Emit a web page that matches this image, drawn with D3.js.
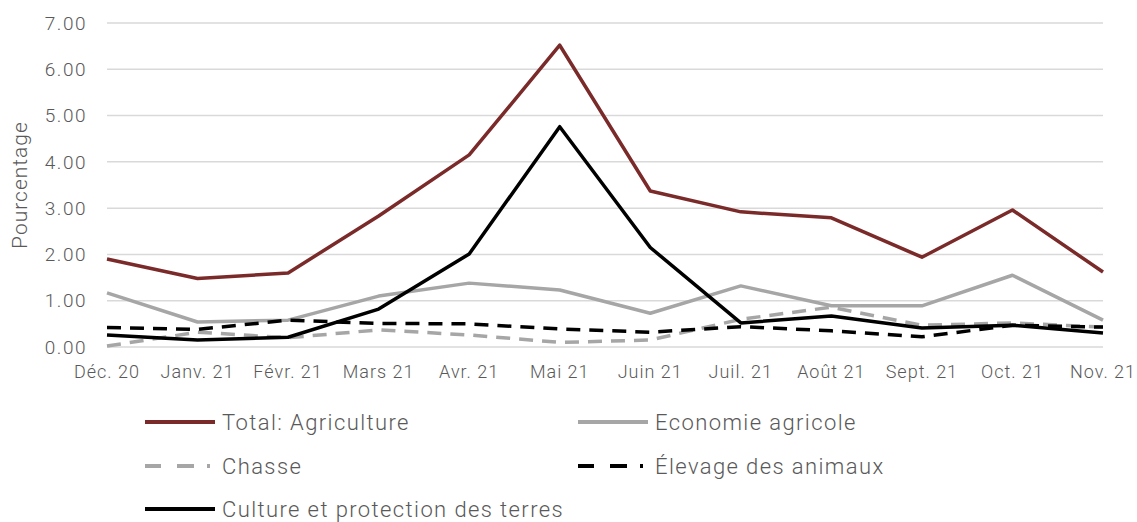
<!DOCTYPE html>
<html>
<head>
<meta charset="utf-8">
<script src="https://cdn.jsdelivr.net/npm/d3@7"></script>
<style>
	body { margin: 0; background: #fff; }
	svg text { font-family: Roboto, "Open Sans", sans-serif; font-weight: 300; fill: #595959; }
</style>
</head>
<body>
<svg id="chart" width="1137" height="522"></svg>
<script>
var months = ["Déc. 20","Janv. 21","Févr. 21","Mars 21","Avr. 21","Mai 21","Juin 21","Juil. 21","Août 21","Sept. 21","Oct. 21","Nov. 21"];
var yTicks = [0,1,2,3,4,5,6,7];

var totalAgriculture = [1.90,1.48,1.60,2.83,4.15,6.52,3.37,2.92,2.79,1.94,2.96,1.62];
var economieAgricole = [1.17,0.54,0.58,1.10,1.38,1.23,0.73,1.32,0.89,0.89,1.55,0.58];
var chasse = [0.02,0.32,0.20,0.37,0.26,0.10,0.15,0.60,0.86,0.47,0.52,0.43];
var elevage = [0.42,0.38,0.58,0.51,0.50,0.39,0.32,0.44,0.35,0.22,0.47,0.43];
var culture = [0.26,0.15,0.21,0.82,2.01,4.76,2.15,0.52,0.67,0.41,0.47,0.30];

var series = [
	{name:"Total: Agriculture", values:totalAgriculture, color:"#7b2a2a", dash:null},
	{name:"Economie agricole", values:economieAgricole, color:"#a6a6a6", dash:null},
	{name:"Chasse", values:chasse, color:"#a6a6a6", dash:"14,9"},
	{name:"Élevage des animaux", values:elevage, color:"#000000", dash:"14,9"},
	{name:"Culture et protection des terres", values:culture, color:"#000000", dash:null}
];

var svg = d3.select("#chart");
var x = d3.scalePoint().domain(months).range([107,1103]);
var y = d3.scaleLinear().domain([0,7]).range([347,23]);

// grid
svg.append("g").selectAll("line")
	.data(yTicks)
	.enter().append("line")
	.attr("x1",107).attr("x2",1103)
	.attr("y1",function(d){return y(d);}).attr("y2",function(d){return y(d);})
	.attr("stroke","#d9d9d9").attr("stroke-width",1.5);

// y axis labels
svg.append("g").selectAll("text")
	.data(yTicks)
	.enter().append("text")
	.attr("x",87).attr("y",function(d){return y(d);})
	.attr("dy","0.35em")
	.attr("text-anchor","end")
	.style("font-size","19px")
	.style("letter-spacing","1.5px")
	.text(function(d){return d.toFixed(2);});

// x axis labels
svg.append("g").selectAll("text")
	.data(months)
	.enter().append("text")
	.attr("x",function(d){return x(d);}).attr("y",372)
	.attr("dy","0.35em")
	.attr("text-anchor","middle")
	.style("font-size","18px")
	.style("letter-spacing","1px")
	.text(function(d){return d;});

svg.append("text")
	.attr("transform","translate(20,185) rotate(-90)")
	.attr("dy","0.35em")
	.attr("text-anchor","middle")
	.style("font-size","21px")
	.style("letter-spacing","1px")
	.text("Pourcentage");

var line = d3.line()
	.x(function(d,i){return x(months[i]);})
	.y(function(d){return y(d);});

svg.append("g").selectAll("path")
	.data(series)
	.enter().append("path")
	.attr("d",function(s){return line(s.values);})
	.attr("fill","none")
	.attr("stroke",function(s){return s.color;})
	.attr("stroke-width",3.5)
	.attr("stroke-linejoin","round")
	.attr("stroke-dasharray",function(s){return s.dash;});

// legend
var legendPos = [[145,422],[578,422],[145,466],[578,466],[145,509]];
var lg = svg.append("g").selectAll("g")
	.data(series)
	.enter().append("g")
	.attr("transform",function(s,i){return "translate(" + legendPos[i][0] + "," + legendPos[i][1] + ")";});

lg.append("line")
	.attr("x1",0).attr("x2",70).attr("y1",0).attr("y2",0)
	.attr("stroke",function(s){return s.color;})
	.attr("stroke-width",4)
	.attr("stroke-dasharray",function(s){return s.dash ? "16,16,17,13,3,100" : null;});

lg.append("text")
	.attr("x",77).attr("dy","0.35em")
	.style("font-size","22px")
	.style("letter-spacing","1.4px")
	.text(function(s){return s.name;});
</script>
</body>
</html>
